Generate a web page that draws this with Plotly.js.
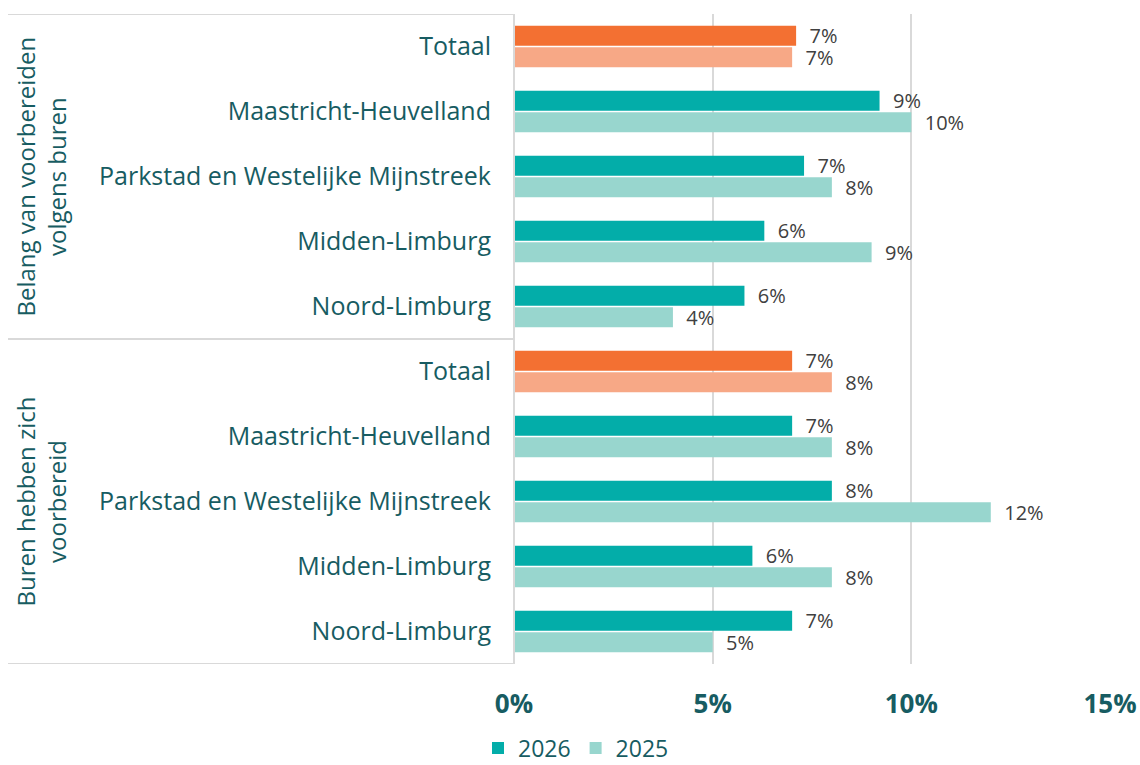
<!DOCTYPE html>
<html>
<head>
<meta charset="utf-8">
<script src="https://cdn.plot.ly/plotly-3.0.1.min.js"></script>
<style>html,body{margin:0;padding:0;background:#fff;}#chart{width:1140px;height:765px;}</style>
</head>
<body>
<div id="chart"></div>
<script>
// ---- data ----
const categories = ['Totaal','Maastricht-Heuvelland','Parkstad en Westelijke Mijnstreek','Midden-Limburg','Noord-Limburg',
                    'Totaal','Maastricht-Heuvelland','Parkstad en Westelijke Mijnstreek','Midden-Limburg','Noord-Limburg'];
const groupLabels = ['Belang van voorbereiden<br>volgens buren', 'Buren hebben zich<br>voorbereid'];
const groupSizes = [5, 5];
const values2026 = [7.1, 9.2, 7.3, 6.3, 5.8, 7.0, 7.0, 8.0, 6.0, 7.0];
const values2025 = [7.0, 10.0, 8.0, 9.0, 4.0, 8.0, 8.0, 12.0, 8.0, 5.0];
const seriesNames = ['2026', '2025'];
const xTicks = [0, 5, 10, 15];
const xTickLabels = ['0%', '5%', '10%', '15%'];

// ---- styling ----
const teal = '#03ADA9', tealLight = '#98D6CE', orange = '#F37032', orangeLight = '#F7A886';
const dark = '#175C62';
const font = '"Open Sans", "Noto Sans", sans-serif';

const idx = categories.map((c, i) => i);
const isTot = categories.map(c => c === 'Totaal');
function pick(vals, wantTot) {
  const y = [], x = [];
  vals.forEach((v, i) => { if (isTot[i] === wantTot) { y.push(i); x.push(v); } });
  return {x, y};
}
function mk(vals, name, color, tot, group, showlegend) {
  const d = pick(vals, tot);
  return {
    type: 'bar', orientation: 'h', x: d.x, y: d.y, name: name,
    offsetgroup: group, legendgroup: group, showlegend: showlegend,
    marker: {color: color, line: {width: 0}},
    texttemplate: '\u00a0\u00a0%{x:.0f}%', textposition: 'outside', cliponaxis: false,
    constraintext: 'none',
    textfont: {family: font, size: 20, color: '#404040'},
    hoverinfo: 'x+y'
  };
}
const traces = [
  mk(values2026, seriesNames[0], teal, false, 'a', true),
  mk(values2026, seriesNames[0], orange, true, 'a', false),
  mk(values2025, seriesNames[1], tealLight, false, 'b', true),
  mk(values2025, seriesNames[1], orangeLight, true, 'b', false)
];

// shapes: table lines on the left
const leftPaper = -(514 - 8) / 596;
const shapes = [];
let start = 0;
const bounds = [-0.5];
groupSizes.forEach(s => { start += s; bounds.push(start - 0.5); });
bounds.forEach(b => shapes.push({type: 'line', xref: 'paper', yref: 'y', x0: leftPaper, x1: 0, y0: b, y1: b,
  line: {color: '#D9D9D9', width: 2}}));
shapes.push({type: 'line', xref: 'paper', yref: 'y', x0: 0, x1: 0, y0: bounds[0], y1: bounds[bounds.length - 1],
  line: {color: '#D9D9D9', width: 2}});

const annotations = [];
start = 0;
groupSizes.forEach((s, g) => {
  annotations.push({xref: 'paper', yref: 'y', x: (40 - 514) / 596, y: start + (s - 1) / 2,
    text: groupLabels[g], textangle: -90, showarrow: false, xanchor: 'center', yanchor: 'middle',
    font: {family: font, size: 24, color: dark}, align: 'center'});
  start += s;
});

const layout = {
  width: 1140, height: 765,
  margin: {l: 514, r: 30, t: 14, b: 101, autoexpand: false},
  paper_bgcolor: '#fff', plot_bgcolor: '#fff',
  barmode: 'group', bargap: 0.34, bargroupgap: 0.07,
  showlegend: true,
  legend: {orientation: 'h', xref: 'container', x: 576 / 1140, xanchor: 'center',
    yref: 'container', y: 17 / 765, yanchor: 'middle', itemwidth: 30, tracegroupgap: 0,
    font: {family: font, size: 23, color: dark}, traceorder: 'normal'},
  xaxis: {range: [0, 15], tickvals: xTicks, ticktext: xTickLabels, showgrid: true, gridcolor: '#D9D9D9', gridwidth: 2,
    zeroline: false, showline: false, ticks: '', ticklabelstandoff: 22, automargin: false,
    tickfont: {family: font, size: 26, color: dark, weight: 'bold'}},
  yaxis: {tickvals: idx, ticktext: categories, range: [categories.length - 0.5, -0.5], showgrid: false,
    zeroline: false, showline: false, ticks: '', ticklabelstandoff: 22, automargin: false,
    tickfont: {family: font, size: 25, color: dark}},
  shapes: shapes, annotations: annotations,
  font: {family: font}
};
Plotly.newPlot('chart', traces, layout, {displayModeBar: false, staticPlot: true});
</script>
</body>
</html>
